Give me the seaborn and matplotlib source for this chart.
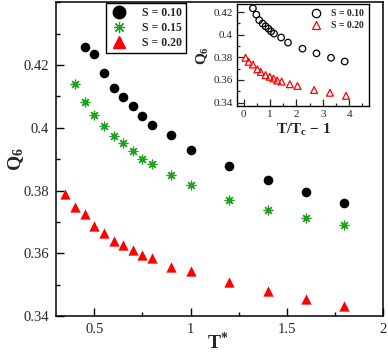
import matplotlib
matplotlib.use("Agg")
import matplotlib.pyplot as plt
from matplotlib.ticker import MultipleLocator, FixedLocator, FixedFormatter
from matplotlib.lines import Line2D
import seaborn as sns

# main panel data: T* vs Q6
t_s10 = [0.45, 0.5, 0.55, 0.6, 0.65, 0.7, 0.75, 0.8, 0.9, 1.0, 1.2, 1.4, 1.6, 1.8]
q_s10 = [0.4256, 0.4235, 0.4175, 0.4127, 0.4097, 0.4068, 0.4038, 0.4010, 0.3976, 0.3930,
         0.3877, 0.3832, 0.3795, 0.3761]
t_s15 = [0.4, 0.45, 0.5, 0.55, 0.6, 0.65, 0.7, 0.75, 0.8, 0.9, 1.0, 1.2, 1.4, 1.6, 1.8]
q_s15 = [0.4140, 0.4082, 0.4041, 0.4005, 0.3975, 0.3950, 0.3926, 0.3900, 0.3886, 0.3851,
         0.3819, 0.3771, 0.3739, 0.3713, 0.3691]
t_s20 = [0.35, 0.4, 0.45, 0.5, 0.55, 0.6, 0.65, 0.7, 0.75, 0.8, 0.9, 1.0, 1.2, 1.4, 1.6, 1.8]
q_s20 = [0.3789, 0.3749, 0.3726, 0.3686, 0.3664, 0.3639, 0.3628, 0.3609, 0.3594, 0.3585,
         0.3556, 0.3543, 0.3508, 0.3480, 0.3456, 0.3433]

# inset data: T/Tc - 1 vs Q6
r_s10 = [0.35, 0.48, 0.59, 0.72, 0.83, 0.94, 1.04, 1.15, 1.42, 1.68, 2.23, 2.76, 3.31, 3.83]
qi_s10 = [0.4233, 0.4177, 0.4128, 0.4098, 0.4074, 0.4053, 0.4029, 0.4009, 0.3975, 0.3930,
          0.3876, 0.3835, 0.3796, 0.3763]
r_s20 = [0.07, 0.19, 0.35, 0.52, 0.65, 0.83, 0.99, 1.13, 1.27, 1.44, 1.75, 2.04, 2.67, 3.27, 3.88]
qi_s20 = [0.3796, 0.3760, 0.3736, 0.3694, 0.3670, 0.3643, 0.3628, 0.3613, 0.3595, 0.3586,
          0.3562, 0.3547, 0.3511, 0.3487, 0.3460]

x_ticks = [0.5, 1, 1.5, 2]
x_labels = ["0.5", "1", "1.5", "2"]
y_ticks = [0.34, 0.36, 0.38, 0.40, 0.42]
y_labels = ["0.34", "0.36", "0.38", "0.4", "0.42"]
xi_ticks = [0, 1, 2, 3, 4]
xi_labels = ["0", "1", "2", "3", "4"]

GREEN = "#22a022"

sns.set_style("ticks")
plt.rcParams["font.family"] = ["Liberation Serif", "DejaVu Serif"]
plt.rcParams["mathtext.fontset"] = "custom"
plt.rcParams["mathtext.rm"] = "Liberation Serif"
plt.rcParams["mathtext.bf"] = "Liberation Serif:bold"
plt.rcParams["mathtext.it"] = "Liberation Serif:italic"

fig = plt.figure(figsize=(3.88, 3.6), dpi=100)
ax = fig.add_axes([0.144, 0.122, 0.843, 0.872])

sns.scatterplot(x=t_s10, y=q_s10, ax=ax, marker="o", color="black", s=48, linewidth=0)
sns.scatterplot(x=t_s15, y=q_s15, ax=ax, marker=(8, 2, 0), color=GREEN, s=40, linewidth=0.9)
sns.scatterplot(x=t_s20, y=q_s20, ax=ax, marker="^", color="red", s=55, linewidth=0)

ax.set_xlim(0.3, 2.0)
ax.set_ylim(0.34, 0.44)
ax.xaxis.set_major_locator(FixedLocator(x_ticks))
ax.xaxis.set_major_formatter(FixedFormatter(x_labels))
ax.xaxis.set_minor_locator(MultipleLocator(0.25))
ax.yaxis.set_major_locator(FixedLocator(y_ticks))
ax.yaxis.set_major_formatter(FixedFormatter(y_labels))
ax.yaxis.set_minor_locator(MultipleLocator(0.01))
ax.tick_params(which="both", direction="in", labelsize=10.5, width=1, color="black", pad=5)
ax.tick_params(which="major", length=6)
ax.tick_params(which="minor", length=3)
for sp in ax.spines.values():
    sp.set_linewidth(1.1)
    sp.set_color("black")

ax.set_xlabel(r"$\mathbf{T}^{\mathbf{*}}$", fontsize=14)
ax.set_ylabel(r"$\mathbf{Q}_{\mathbf{6}}$", fontsize=14)
ax.xaxis.set_label_coords(0.495, -0.05)
ax.yaxis.set_label_coords(-0.092, 0.5)

handles = [
    Line2D([], [], ls="none", marker="o", color="black", markersize=9),
    Line2D([], [], ls="none", marker=(8, 2, 0), color=GREEN, markersize=8, markeredgewidth=0.9),
    Line2D([], [], ls="none", marker="^", color="red", markersize=9),
]
leg = ax.legend(handles, ["S = 0.10", "S = 0.15", "S = 0.20"], loc="upper left",
                bbox_to_anchor=(0.153, 0.998), frameon=True, fancybox=False,
                edgecolor="black", framealpha=1, prop={"weight": "bold", "size": 8.5},
                handletextpad=1.2, labelspacing=0.25, borderpad=0.35, handlelength=1.5,
                borderaxespad=0)
leg.get_frame().set_linewidth(1)

# inset
axi = fig.add_axes([0.611, 0.7056, 0.340, 0.283])
sns.scatterplot(x=r_s10, y=qi_s10, ax=axi, marker="o", s=22, facecolor="none",
                edgecolor="black", linewidth=0.9)
sns.scatterplot(x=r_s20, y=qi_s20, ax=axi, marker="^", s=24, facecolor="none",
                edgecolor="red", linewidth=0.9)
axi.set_xlim(-0.25, 4.75)
axi.set_ylim(0.337, 0.427)
axi.xaxis.set_major_locator(FixedLocator(xi_ticks))
axi.xaxis.set_major_formatter(FixedFormatter(xi_labels))
axi.xaxis.set_minor_locator(MultipleLocator(0.5))
axi.yaxis.set_major_locator(FixedLocator(y_ticks))
axi.yaxis.set_major_formatter(FixedFormatter(y_labels))
axi.yaxis.set_minor_locator(MultipleLocator(0.01))
axi.tick_params(which="both", direction="in", labelsize=8, width=0.9, pad=3)
axi.tick_params(which="major", length=5)
axi.tick_params(which="minor", length=2.5)
for sp in axi.spines.values():
    sp.set_linewidth(1)
    sp.set_color("black")
axi.set_xlabel(r"$\mathbf{T/T_c}$ $\mathbf{-}$ $\mathbf{1}$", fontsize=11, labelpad=2)
axi.set_ylabel(r"$\mathbf{Q}_{\mathbf{6}}$", fontsize=11, labelpad=2)

ihandles = [
    Line2D([], [], ls="none", marker="o", markerfacecolor="none", markeredgecolor="black",
           markersize=6, markeredgewidth=0.9),
    Line2D([], [], ls="none", marker="^", markerfacecolor="none", markeredgecolor="red",
           markersize=6, markeredgewidth=0.9),
]
axi.legend(ihandles, ["S = 0.10", "S = 0.20"], loc="upper right", frameon=False,
           prop={"weight": "bold", "size": 7}, handletextpad=1.0, labelspacing=0.35,
           borderaxespad=0.3, handlelength=1.2, borderpad=0.2)

fig.savefig("out.png", dpi=100)
